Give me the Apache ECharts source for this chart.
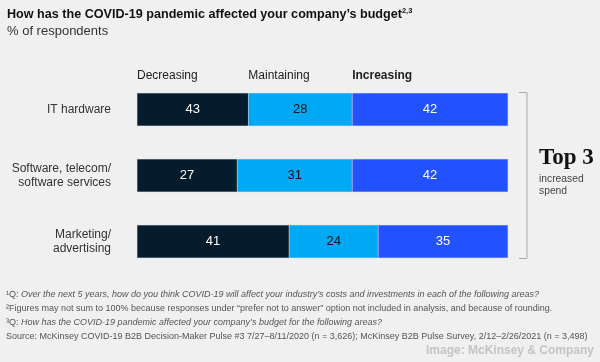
<!DOCTYPE html>
<html><head><meta charset="utf-8">
<script src="https://cdn.jsdelivr.net/npm/echarts@6/dist/echarts.min.js"></script>
<style>html,body{margin:0;padding:0;background:#f0f0f0}#c{width:600px;height:362px}</style>
</head><body><div id="c"></div>
<script>
const categories = ['IT hardware', 'Software, telecom/\nsoftware services', 'Marketing/\nadvertising'];
const seriesNames = ['Decreasing', 'Maintaining', 'Increasing'];
// Segment lengths as drawn in the picture
const decreasing = [30, 27, 41];
const maintaining = [28, 31, 24];
const increasing = [42, 42, 35];
// Numbers printed on the segments
const decreasingLabels = [43, 27, 41];
const maintainingLabels = [28, 31, 24];
const increasingLabels = [42, 42, 35];

const FONT = '"Liberation Sans", Arial, sans-serif';
const colors = ['#051c2c', '#00a9f4', '#2251ff'];
const labelColors = ['#ffffff', '#111111', '#ffffff'];
const values = [decreasing, maintaining, increasing];
const labels = [decreasingLabels, maintainingLabels, increasingLabels];

const chart = echarts.init(document.getElementById('c'), null, {renderer: 'canvas'});

const series = seriesNames.map((name, i) => ({
  name, type: 'bar', stack: 'all', barWidth: 33,
  itemStyle: {color: colors[i], borderColor: 'rgba(150,160,180,0.35)', borderWidth: 0.5},
  label: {show: true, position: 'inside', color: labelColors[i], fontFamily: FONT, fontSize: 13,
    formatter: p => String(labels[i][p.dataIndex])},
  data: values[i]
}));

const footStyle = {fontFamily: FONT, fontSize: 9, fill: '#555'};
const option = {
  backgroundColor: '#f0f0f0',
  animation: false,
  grid: {left: 137, width: 371, top: 76.5, height: 198},
  xAxis: {type: 'value', min: 0, max: 100, show: false},
  yAxis: {type: 'category', inverse: true, data: categories,
    axisLine: {show: false}, axisTick: {show: false},
    axisLabel: {margin: 26, color: '#333', fontFamily: FONT, fontSize: 12, lineHeight: 14, align: 'right'}},
  series,
  graphic: [
    {type: 'text', left: 7, top: 7, style: {text: '{t|How has the COVID-19 pandemic affected your company\u2019s budget}{s|2,3}',
      rich: {t: {fontFamily: FONT, fontSize: 12.6, fontWeight: 'bold', fill: '#111'},
             s: {fontFamily: FONT, fontSize: 7.5, fontWeight: 'bold', fill: '#111', padding: [0, 0, 7, 0]}}}},
    {type: 'text', left: 7, top: 25, style: {text: '% of respondents', fontFamily: FONT, fontSize: 13, fill: '#333'}},
    {type: 'polyline', shape: {points: [[519, 92.5], [527, 92.5], [527, 258.5], [519, 258.5]]},
      style: {stroke: '#aaaaaa', lineWidth: 1, fill: null}},
    {type: 'text', left: 539, top: 147, style: {text: 'Top 3', fontFamily: '"Liberation Serif", "DejaVu Serif", serif', fontSize: 23, fontWeight: 'bold', fill: '#111'}},
    {type: 'text', left: 539, top: 173, style: {text: 'increased\nspend', fontFamily: FONT, fontSize: 10.3, lineHeight: 12, fill: '#444'}},
    {type: 'text', left: 6, top: 290, style: {text: '{n|\u00b9Q: }{i|Over the next 5 years, how do you think COVID-19 will affect your industry\u2019s costs and investments in each of the following areas?}',
      rich: {n: Object.assign({}, footStyle), i: Object.assign({fontStyle: 'italic'}, footStyle)}}},
    {type: 'text', left: 6, top: 304, style: Object.assign({text: '\u00b2Figures may not sum to 100% because responses under \u201cprefer not to answer\u201d option not included in analysis, and because of rounding.'}, footStyle)},
    {type: 'text', left: 6, top: 318, style: {text: '{n|\u00b3Q: }{i|How has the COVID-19 pandemic affected your company\u2019s budget for the following areas?}',
      rich: {n: Object.assign({}, footStyle), i: Object.assign({fontStyle: 'italic'}, footStyle)}}},
    {type: 'text', left: 6, top: 332, style: Object.assign({text: 'Source: McKinsey COVID-19 B2B Decision-Maker Pulse #3 7/27\u20138/11/2020 (n = 3,626); McKinsey B2B Pulse Survey, 2/12\u20132/26/2021 (n = 3,498)'}, footStyle)},
    {type: 'text', right: 6, top: 345, style: {text: 'Image: McKinsey & Company', fontFamily: '"Liberation Sans Narrow", "Liberation Sans", sans-serif', fontSize: 12, fontWeight: 'bold', fill: '#c4c4c4'}}
  ]
};
chart.setOption(option);

// Column headers placed at the start of each segment of the first row
let cum = 0;
const headers = seriesNames.map((name, i) => {
  const p = chart.convertToPixel({gridIndex: 0}, [cum, categories[0]]);
  cum += values[i][0];
  return {type: 'text', left: p[0], top: 70, style: {text: name, fontFamily: FONT, fontSize: 12,
    fontWeight: i === 2 ? 'bold' : 'normal', fill: '#222'}};
});
chart.setOption({graphic: option.graphic.concat(headers)});
</script></body></html>
